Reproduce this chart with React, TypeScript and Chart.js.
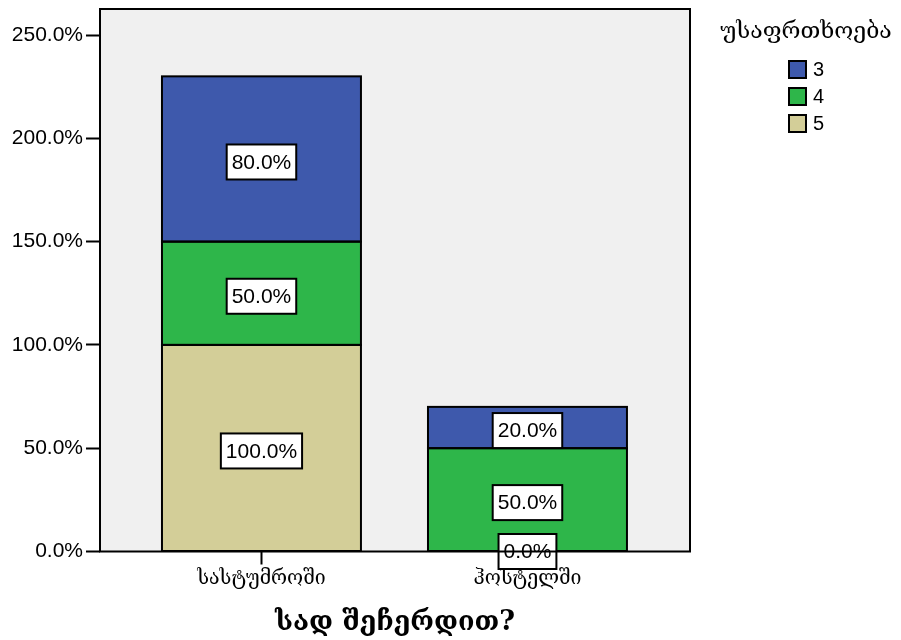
import React, { useEffect, useRef } from "react";
import { Chart, registerables } from "chart.js";

Chart.register(...registerables);

// ---- data ----
const categories = ["სასტუმროში", "ჰოსტელში"];
const seriesLabels = ["5", "4", "3"]; // stacked bottom -> top
const values5 = [100, 0];
const values4 = [50, 50];
const values3 = [80, 20];
const seriesColors = ["#D3CE98", "#2EB64A", "#3E59AC"];
const yTickValues = [0, 50, 100, 150, 200, 250];
const legendTitle = "უსაფრთხოება";
const xAxisTitle = "სად შეჩერდით?";

const NUM_FONT = "'Liberation Sans', Arial, sans-serif";
const GEO_FONT = "'DejaVu Serif', 'DejaVu Sans', serif";

const plotBg = {
  id: "plotBg",
  beforeDraw(chart: any) {
    const { ctx, chartArea } = chart;
    ctx.save();
    ctx.fillStyle = "#F0F0F0";
    ctx.fillRect(chartArea.left, chartArea.top, chartArea.right - chartArea.left, chartArea.bottom - chartArea.top);
    ctx.restore();
  },
};

const valueLabels = {
  id: "valueLabels",
  afterDatasetsDraw(chart: any) {
    const { ctx } = chart;
    ctx.save();
    // bar outlines
    ctx.lineWidth = 2;
    ctx.strokeStyle = "#000000";
    chart.data.datasets.forEach((_ds: any, di: number) => {
      const meta = chart.getDatasetMeta(di);
      meta.data.forEach((el: any) => {
        const h = Math.abs(el.base - el.y);
        if (h <= 0) return;
        const w = el.width;
        ctx.strokeRect(el.x - w / 2, Math.min(el.y, el.base), w, h);
      });
    });
    ctx.font = `21px ${NUM_FONT}`;
    ctx.textAlign = "center";
    ctx.textBaseline = "middle";
    chart.data.datasets.forEach((ds: any, di: number) => {
      const meta = chart.getDatasetMeta(di);
      meta.data.forEach((el: any, i: number) => {
        const v = ds.data[i].y;
        const text = v.toFixed(1) + "%";
        const h = Math.abs(el.base - el.y);
        const cx = el.x;
        const cy = (el.y + el.base) / 2 + (h > 0 ? 3 : 0);
        const tw = ctx.measureText(text).width;
        const bw = tw + 10;
        const bh = 35;
        ctx.fillStyle = "#FFFFFF";
        ctx.fillRect(cx - bw / 2, cy - bh / 2, bw, bh);
        ctx.lineWidth = 2;
        ctx.strokeStyle = "#000000";
        ctx.strokeRect(cx - bw / 2, cy - bh / 2, bw, bh);
        ctx.fillStyle = "#000000";
        ctx.fillText(text, cx, cy + 1);
      });
    });
    ctx.restore();
  },
};

const frameAndLegend = {
  id: "frameAndLegend",
  afterDraw(chart: any) {
    const { ctx, chartArea } = chart;
    ctx.save();
    ctx.lineWidth = 2;
    ctx.strokeStyle = "#000000";
    ctx.strokeRect(chartArea.left, chartArea.top, chartArea.right - chartArea.left, chartArea.bottom - chartArea.top);

    // legend
    const lx = chartArea.right + 116;
    ctx.font = `23px ${GEO_FONT}`;
    ctx.fillStyle = "#000000";
    ctx.textAlign = "center";
    ctx.textBaseline = "middle";
    ctx.fillText(legendTitle, lx, 32);
    const ds = chart.data.datasets.slice().reverse();
    ds.forEach((d: any, k: number) => {
      const by = 61 + k * 27;
      const bx = chartArea.right + 99;
      ctx.fillStyle = d.backgroundColor;
      ctx.fillRect(bx, by, 17, 17);
      ctx.lineWidth = 2;
      ctx.strokeStyle = "#000000";
      ctx.strokeRect(bx, by, 17, 17);
      ctx.fillStyle = "#000000";
      ctx.font = `20px ${NUM_FONT}`;
      ctx.textAlign = "left";
      ctx.fillText(d.label, bx + 24, by + 9);
    });
    ctx.restore();
  },
};

export default function App() {
  const ref = useRef<HTMLCanvasElement | null>(null);
  useEffect(() => {
    if (!ref.current) return;
    const seriesValues = [values5, values4, values3];
    const chart = new Chart(ref.current, {
      type: "bar",
      data: {
        datasets: seriesLabels.map((lab, s) => ({
          label: lab,
          data: categories.map((_, i) => ({ x: i, y: seriesValues[s][i] })),
          backgroundColor: seriesColors[s],
          borderWidth: 0,
          categoryPercentage: 1,
          barPercentage: 0.748,
        })),
      },
      options: {
        animation: false,
        responsive: false,
        devicePixelRatio: 1,
        layout: { padding: { top: 9, right: 211, bottom: 0, left: 0 } },
        plugins: {
          legend: { display: false },
          tooltip: { enabled: false },
        },
        scales: {
          x: {
            type: "linear",
            stacked: true,
            offset: false,
            min: -0.607,
            max: 1.611,
            afterBuildTicks: (scale: any) => {
              scale.ticks = categories.map((_, i) => ({ value: i }));
            },
            afterFit: (scale: any) => {
              scale.height = 88.5;
              scale.paddingLeft = 0;
              scale.paddingRight = 0;
            },
            ticks: {
              autoSkip: false,
              maxRotation: 0,
              padding: 3,
              color: "#000000",
              font: { family: GEO_FONT, size: 19.5 },
              callback: (v: any) => categories[Math.round(Number(v))] ?? "",
            },
            grid: {
              offset: false,
              drawOnChartArea: false,
              drawTicks: true,
              tickLength: 13,
              tickWidth: 2,
              tickColor: "#000000",
            },
            border: { display: false },
            title: {
              display: true,
              text: xAxisTitle,
              color: "#000000",
              font: { family: GEO_FONT, size: 27, weight: "bold" },
              padding: { top: 0, bottom: 1 },
            },
          },
          y: {
            type: "linear",
            stacked: true,
            min: 0,
            max: 262.6,
            afterBuildTicks: (scale: any) => {
              scale.ticks = yTickValues.map((v) => ({ value: v }));
            },
            afterFit: (scale: any) => {
              scale.width = 100;
              scale.paddingTop = 0;
              scale.paddingBottom = 0;
            },
            ticks: {
              padding: 3,
              color: "#000000",
              font: { family: NUM_FONT, size: 21 },
              callback: (v: any) => Number(v).toFixed(1) + "%",
            },
            grid: {
              drawOnChartArea: false,
              drawTicks: true,
              tickLength: 14,
              tickWidth: 2,
              tickColor: "#000000",
            },
            border: { display: false },
          },
        },
      },
      plugins: [plotBg, valueLabels, frameAndLegend],
    } as any);
    return () => chart.destroy();
  }, []);
  return (
    <div style={{ position: "absolute", left: 0, top: 0, width: 901, height: 640 }}>
      <canvas ref={ref} width={901} height={640} style={{ display: "block", width: 901, height: 640 }} />
    </div>
  );
}
